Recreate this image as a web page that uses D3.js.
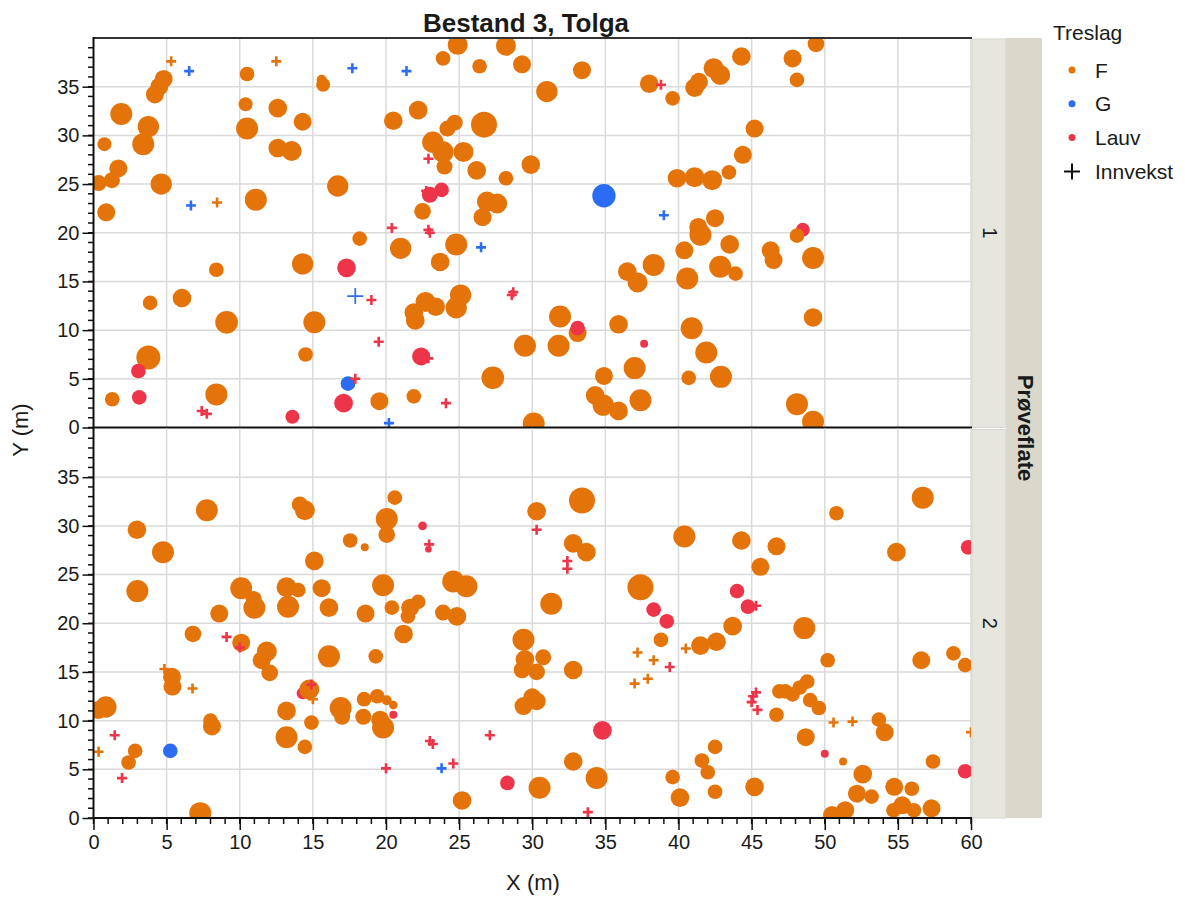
<!DOCTYPE html>
<html>
<head>
<meta charset="utf-8">
<script src="https://cdn.jsdelivr.net/npm/d3@7"></script>
<style>
  body { margin: 0; background: #fff; }
  text { font-family: "Liberation Sans", Arial, sans-serif; fill: #1a1a1a; }
</style>
</head>
<body>
<div id="canvas"></div>
<script>
// categories
const treslagKode = ["F", "G", "L"];
const treslagNavn = ["F", "G", "Lauv"];
const treslagFarge = ["#e4740a", "#2b6cf3", "#ee3448"];
const flater = ["1", "2"];
const xTicks = [0, 5, 10, 15, 20, 25, 30, 35, 40, 45, 50, 55, 60];
const yTicks = [0, 5, 10, 15, 20, 25, 30, 35];

// trees: [x, y, treslag, diameter (cm)]
const traer1 = [
  [48.5,20.3,"L",21],
  [4.8,35.8,"F",27],[4.5,35.0,"F",27],[4.2,34.2,"F",27],
  [1.9,32.2,"F",33],[3.75,30.9,"F",32],[3.4,29.1,"F",33],[0.75,29.1,"F",21],[1.7,26.6,"F",27],
  [1.26,25.4,"F",24],[0.35,25.1,"F",24],[4.63,25.0,"F",32],[0.87,22.1,"F",27],[11.1,23.4,"F",33],
  [10.5,36.3,"F",22],[10.4,33.2,"F",21],[10.5,30.7,"F",33],[12.6,32.8,"F",28],[12.6,28.7,"F",28],
  [13.55,28.4,"F",30],[14.3,31.4,"F",27],[15.6,35.7,"F",15],[15.7,35.2,"F",21],[16.7,24.8,"F",32],
  [20.5,31.5,"F",28],[23.9,37.9,"F",22],[24.9,39.3,"F",30],[26.4,37.1,"F",22],[28.2,39.2,"F",30],
  [29.3,37.3,"F",27],[31.0,34.5,"F",32],[33.4,36.7,"F",27],[38.0,35.3,"F",28],[39.6,33.8,"F",22],
  [41.1,34.9,"F",28],[41.4,35.5,"F",27],[42.4,36.9,"F",30],[42.85,36.2,"F",30],[44.3,38.1,"F",28],
  [22.2,32.6,"F",28],[24.7,31.3,"F",24],[24.2,30.7,"F",24],[26.7,31.1,"F",39],[23.2,29.3,"F",32],
  [23.9,28.3,"F",32],[25.3,28.3,"F",30],[24.0,26.8,"F",24],[26.2,26.4,"F",28],[28.2,25.6,"F",22],
  [29.9,27.0,"F",28],[22.5,22.2,"F",25],[26.9,23.2,"F",30],[27.6,23.0,"F",30],[26.6,21.6,"F",27],
  [39.9,25.6,"F",28],[41.1,25.7,"F",30],[42.3,25.4,"F",30],[43.45,26.2,"F",22],[44.4,28.0,"F",27],
  [45.2,30.7,"F",27],[42.5,21.5,"F",27],[41.35,20.6,"F",27],[49.4,39.4,"F",25],[47.8,37.9,"F",27],
  [48.1,35.7,"F",22],[48.1,19.7,"F",22],[18.2,19.4,"F",22],[21.0,18.4,"F",32],[14.3,16.8,"F",32],
  [8.4,16.2,"F",22],[3.87,12.8,"F",22],[6.05,13.3,"F",28],[9.1,10.8,"F",34],[15.1,10.8,"F",33],
  [3.75,7.2,"F",36],[14.5,7.5,"F",22],[1.28,2.9,"F",22],[8.4,3.4,"F",33],[19.55,2.7,"F",27],
  [24.8,18.8,"F",33],[23.7,17.0,"F",28],[22.7,12.9,"F",30],[23.4,12.4,"F",28],[21.9,11.8,"F",28],
  [22.0,11.0,"F",28],[25.1,13.6,"F",32],[24.8,12.3,"F",32],[31.9,11.4,"F",33],[33.1,9.7,"F",27],
  [31.8,8.4,"F",33],[29.5,8.4,"F",33],[35.9,10.6,"F",28],[27.3,5.1,"F",34],[21.9,3.2,"F",22],
  [30.1,0.4,"F",33],[34.9,5.3,"F",27],[37.0,6.1,"F",33],[34.3,3.3,"F",28],[34.85,2.3,"F",32],
  [35.9,1.7,"F",28],[37.4,2.8,"F",33],[40.9,10.2,"F",33],[41.9,7.7,"F",33],[40.7,5.1,"F",22],
  [42.9,5.2,"F",33],[40.4,18.2,"F",27],[41.5,19.8,"F",33],[43.5,18.8,"F",28],[40.6,15.3,"F",33],
  [42.85,16.5,"F",33],[43.9,15.8,"F",22],[36.5,16.0,"F",28],[37.2,14.9,"F",30],[38.3,16.7,"F",33],
  [46.3,18.2,"F",27],[46.5,17.2,"F",27],[49.2,17.4,"F",33],[49.2,11.3,"F",28],[48.1,2.4,"F",33],
  [49.2,0.6,"F",33],
  [34.9,23.8,"G",35],[17.4,4.5,"G",22],
  [23.8,24.4,"L",22],[23.0,23.9,"L",24],[17.3,16.4,"L",28],[3.07,5.8,"L",22],[3.13,3.1,"L",22],
  [13.6,1.1,"L",21],[17.1,2.5,"L",28],[22.4,7.3,"L",27],[33.1,10.2,"L",22],[37.65,8.6,"L",12]
];

// innvekst: [x, y, treslag, hoyde (m)]
const innvekst1 = [
  [5.31,37.6,"F",1],[6.54,36.6,"G",1],[6.66,22.8,"G",1],[8.45,23.1,"F",1],[12.5,37.6,"F",1],
  [17.7,36.9,"G",1],[21.4,36.6,"G",1],[38.8,35.2,"L",1],[22.9,27.6,"L",1],[22.75,24.3,"L",1],
  [39.0,21.8,"G",1],[20.4,20.5,"L",1],[22.9,20.3,"L",1],[23.0,20.0,"L",1],[26.5,18.5,"G",1],
  [17.9,13.5,"G",2],[19.0,13.1,"L",1],[28.7,13.9,"L",1],[28.6,13.6,"L",1],[19.5,8.8,"L",1],
  [22.9,7.1,"L",1],[17.9,5.0,"L",1],[7.4,1.7,"L",1],[7.75,1.4,"L",1],[24.1,2.5,"L",1],
  [20.2,0.45,"G",1]
];

const traer2 = [
  [14.3,12.8,"L",18],
  [2.97,29.6,"F",28],[4.75,27.3,"F",33],[3.0,23.3,"F",33],[7.75,31.6,"F",33],[14.1,32.2,"F",24],
  [14.45,31.6,"F",30],[20.6,32.9,"F",22],[20.05,30.7,"F",33],[20.05,29.1,"F",25],[17.55,28.5,"F",22],
  [18.55,27.8,"F",12],[15.1,26.4,"F",28],[10.1,23.6,"F",33],[10.95,22.5,"F",24],[11.0,21.6,"F",33],
  [13.2,23.7,"F",30],[14.0,23.4,"F",22],[13.3,21.7,"F",33],[15.6,23.6,"F",27],[16.1,21.6,"F",28],
  [19.8,23.9,"F",33],[20.4,21.6,"F",22],[18.6,21.0,"F",27],[8.6,21.0,"F",27],[6.8,18.9,"F",25],
  [10.1,18.0,"F",27],[11.85,17.1,"F",30],[11.5,16.2,"F",27],[12.05,14.9,"F",25],[21.2,18.9,"F",28],
  [16.1,16.6,"F",33],[19.3,16.6,"F",22],[5.37,14.5,"F",27],[5.4,13.5,"F",27],[0.85,11.4,"F",32],
  [0.33,11.1,"F",27],[2.85,6.9,"F",22],[2.4,5.7,"F",22],[8.0,10.0,"F",22],[8.1,9.4,"F",27],
  [7.3,0.5,"F",33],[13.2,11.0,"F",28],[13.2,8.3,"F",33],[14.45,7.3,"F",22],[14.75,13.2,"F",30],
  [14.9,9.8,"F",22],[16.9,11.3,"F",33],[17.0,10.4,"F",24],[18.5,12.2,"F",22],[19.4,12.5,"F",22],
  [18.45,10.4,"F",24],[20.05,12.1,"F",15],[20.5,11.6,"F",13],[19.8,9.3,"F",33],[19.6,10.1,"F",27],
  [29.4,18.3,"F",33],[29.5,16.3,"F",28],[30.75,16.5,"F",24],[29.3,15.2,"F",25],[30.3,15.0,"F",25],
  [32.8,15.2,"F",28],[30.0,12.4,"F",27],[30.3,12.0,"F",27],[29.4,11.5,"F",27],[25.2,1.8,"F",28],
  [30.5,3.1,"F",33],[32.8,5.8,"F",28],[34.4,4.1,"F",33],[38.8,18.3,"F",22],[41.5,17.7,"F",28],
  [42.6,18.1,"F",28],[46.7,10.6,"F",22],[46.9,13.0,"F",22],[39.6,4.2,"F",22],[40.1,2.1,"F",28],
  [41.6,5.9,"F",22],[42.0,4.7,"F",22],[42.5,7.3,"F",22],[42.5,2.7,"F",22],[45.2,3.2,"F",28],
  [21.65,21.6,"F",27],[22.2,22.2,"F",22],[21.5,20.7,"F",22],[24.6,24.3,"F",33],[25.5,23.8,"F",33],
  [23.9,21.1,"F",24],[24.85,20.7,"F",28],[30.3,31.5,"F",28],[33.4,32.6,"F",39],[32.8,28.2,"F",28],
  [33.7,27.3,"F",28],[31.3,22.0,"F",33],[37.4,23.7,"F",39],[40.4,28.9,"F",33],[44.3,28.5,"F",28],
  [46.7,27.9,"F",27],[45.6,25.8,"F",27],[43.7,19.7,"F",28],[56.7,32.9,"F",33],[50.8,31.3,"F",22],
  [54.9,27.3,"F",28],[48.6,19.5,"F",33],[50.2,16.2,"F",22],[56.6,16.2,"F",27],[58.8,16.9,"F",22],
  [59.6,15.7,"F",22],[48.8,14.0,"F",22],[48.3,13.4,"F",22],[47.3,13.0,"F",22],[47.8,12.7,"F",22],
  [49.0,12.1,"F",22],[49.6,11.3,"F",22],[48.7,8.3,"F",27],[53.7,10.1,"F",22],[54.1,8.8,"F",27],
  [51.25,5.8,"F",12],[57.4,5.8,"F",22],[52.6,4.5,"F",28],[52.2,2.5,"F",27],[53.2,2.2,"F",22],
  [54.75,3.2,"F",27],[55.95,3.0,"F",22],[51.4,0.8,"F",27],[50.5,0.3,"F",27],[54.7,0.8,"F",22],
  [55.3,1.3,"F",27],[56.1,0.8,"F",22],[57.3,1.0,"F",27],
  [5.25,6.9,"G",22],
  [20.5,10.6,"L",12],[28.3,3.6,"L",22],[34.8,9.0,"L",28],[22.5,30.0,"L",13],[38.3,21.4,"L",22],
  [39.2,20.2,"L",22],[44.0,23.3,"L",22],[44.75,21.7,"L",22],[59.8,27.8,"L",22],[50.0,6.6,"L",12],
  [59.6,4.8,"L",22],[22.9,27.6,"L",10]
];

const innvekst2 = [
  [4.85,15.3,"F",1],[6.77,13.3,"F",1],[1.45,8.5,"L",1],[0.35,6.8,"F",1],[1.95,4.1,"L",1],
  [9.1,18.6,"L",1],[10.0,17.5,"L",1],[14.9,13.7,"L",1],[15.0,12.2,"F",1],[20.0,5.1,"L",1],
  [22.95,28.1,"L",1],[30.3,29.6,"L",1],[32.4,26.4,"L",1],[32.4,25.6,"L",1],[23.0,7.9,"L",1],
  [23.2,7.6,"L",1],[27.1,8.5,"L",1],[24.6,5.6,"L",1],[23.8,5.1,"G",1],[33.8,0.6,"L",1],
  [37.2,17.0,"F",1],[38.3,16.2,"F",1],[37.0,13.8,"F",1],[37.9,14.3,"F",1],[39.4,15.5,"L",1],
  [40.5,17.4,"F",1],[45.3,12.9,"L",1],[45.1,12.5,"L",1],[45.0,11.9,"L",1],[45.4,11.1,"L",1],
  [45.3,21.8,"L",1],[50.6,9.8,"F",1],[51.9,9.9,"F",1],[60.0,8.8,"F",1]
];

const w = 1185, h = 897;
const left = 93.5, right = 971;

const x = d3.scaleLinear().domain([0, 60]).range([left, right]);
const r = d3.scaleLinear().domain([0, 36]).range([0, 12]);
const arm = d3.scaleLinear().domain([1, 2]).range([5, 8]);
const colour = d3.scaleOrdinal().domain(treslagKode).range(treslagFarge);

const panels = [
  { key: flater[0], trees: traer1, inn: innvekst1, top: 38, bottom: 427.5 },
  { key: flater[1], trees: traer2, inn: innvekst2, top: 428.5, bottom: 818 }
];

const svg = d3.select("#canvas").append("svg")
  .attr("width", w).attr("height", h);

// title
svg.append("text")
  .attr("x", 526).attr("y", 32)
  .attr("text-anchor", "middle")
  .style("font-size", "26px").style("font-weight", "bold")
  .text("Bestand 3, Tolga");

// outer strip
svg.append("rect")
  .attr("x", 1006).attr("y", 38).attr("width", 36).attr("height", 780)
  .attr("fill", "#d9d8ca");
svg.append("text")
  .attr("transform", "translate(1025,428) rotate(90)")
  .attr("text-anchor", "middle").attr("dominant-baseline", "central")
  .style("font-size", "22px").style("font-weight", "bold")
  .text("Prøveflate");

panels.forEach(function(p, i) {
  const y = d3.scaleLinear().domain([0, 40]).range([p.bottom, p.bottom - 40 * 9.7375]);
  const g = svg.append("g").classed("panel", true);

  // inner strip
  g.append("rect")
    .attr("x", 972).attr("y", p.top + 1).attr("width", 34).attr("height", p.bottom - p.top - 1)
    .attr("fill", "#e6e6de").attr("stroke", "#d6d6cf");
  g.append("text")
    .attr("transform", "translate(990," + ((p.top + p.bottom) / 2) + ") rotate(90)")
    .attr("text-anchor", "middle").attr("dominant-baseline", "central")
    .style("font-size", "20px")
    .text(p.key);

  // grid
  g.append("g").selectAll("line").data(xTicks.slice(1)).enter().append("line")
    .attr("x1", d => x(d)).attr("x2", d => x(d))
    .attr("y1", p.top).attr("y2", p.bottom)
    .attr("stroke", "#dadada").attr("stroke-width", 1.5);
  g.append("g").selectAll("line").data(yTicks.slice(1)).enter().append("line")
    .attr("x1", left).attr("x2", right)
    .attr("y1", d => y(d)).attr("y2", d => y(d))
    .attr("stroke", "#dadada").attr("stroke-width", 1.5);

  // points, clipped to the panel
  const clipId = "clip" + i;
  svg.append("clipPath").attr("id", clipId).append("rect")
    .attr("x", left).attr("y", p.top).attr("width", right - left).attr("height", p.bottom - p.top);
  const pts = g.append("g").attr("clip-path", "url(#" + clipId + ")");

  pts.selectAll("circle").data(p.trees).enter().append("circle")
    .attr("cx", d => x(d[0])).attr("cy", d => y(d[1]))
    .attr("r", d => r(d[3]))
    .attr("fill", d => colour(d[2]));

  pts.selectAll("path").data(p.inn).enter().append("path")
    .attr("transform", d => "translate(" + x(d[0]) + "," + y(d[1]) + ")")
    .attr("d", d => { const a = arm(d[3]); return "M" + (-a) + ",0H" + a + "M0," + (-a) + "V" + a; })
    .attr("stroke", d => colour(d[2]))
    .attr("stroke-width", d => d[3] > 1 ? 1.7 : 2.6)
    .attr("fill", "none");

  // y axis with minor ticks
  g.append("g").selectAll("line").data(d3.range(0, 40)).enter().append("line")
    .attr("x1", left - 5.5).attr("x2", left)
    .attr("y1", d => y(d)).attr("y2", d => y(d))
    .attr("stroke", "#111").attr("stroke-width", 1.5);
  const yAxis = g.append("g")
    .attr("transform", "translate(" + left + ",0)")
    .call(d3.axisLeft(y).tickValues(yTicks).tickSize(11).tickSizeOuter(0).tickPadding(3));
  yAxis.select(".domain").remove();
  yAxis.selectAll(".tick line").attr("stroke", "#111").attr("stroke-width", 1.5);
  yAxis.selectAll(".tick text")
    .style("font-size", "20px").style("font-family", "'Liberation Sans', Arial, sans-serif")
    .attr("fill", "#1a1a1a");

  // bottom border of the panel
  g.append("line")
    .attr("x1", left).attr("x2", right + 1)
    .attr("y1", p.bottom).attr("y2", p.bottom)
    .attr("stroke", "#111").attr("stroke-width", 2);
});

// top border
svg.append("line")
  .attr("x1", left).attr("x2", right + 1).attr("y1", 38).attr("y2", 38)
  .attr("stroke", "#333").attr("stroke-width", 2);
// left axis line
svg.append("line")
  .attr("x1", left).attr("x2", left).attr("y1", 37).attr("y2", 819)
  .attr("stroke", "#111").attr("stroke-width", 2);

// x axis
const xg = svg.append("g");
xg.selectAll("line").data(d3.range(0, 61)).enter().append("line")
  .attr("x1", d => x(d)).attr("x2", d => x(d))
  .attr("y1", 818).attr("y2", 824)
  .attr("stroke", "#111").attr("stroke-width", 1.5);
const xAxis = xg.append("g")
  .attr("transform", "translate(0,818)")
  .call(d3.axisBottom(x).tickValues(xTicks).tickSize(12).tickSizeOuter(0).tickPadding(5));
xAxis.select(".domain").remove();
xAxis.selectAll(".tick line").attr("stroke", "#111").attr("stroke-width", 1.5);
xAxis.selectAll(".tick text")
  .style("font-size", "20px").style("font-family", "'Liberation Sans', Arial, sans-serif")
  .attr("fill", "#1a1a1a");

// axis titles
svg.append("text")
  .attr("x", 533).attr("y", 890)
  .attr("text-anchor", "middle")
  .style("font-size", "22px")
  .text("X (m)");
svg.append("text")
  .attr("transform", "translate(28,430) rotate(-90)")
  .attr("text-anchor", "middle")
  .style("font-size", "22px")
  .text("Y (m)");

// legend
const legend = svg.append("g").attr("transform", "translate(1053,0)");
legend.append("text")
  .attr("x", 0).attr("y", 40)
  .style("font-size", "21px")
  .text("Treslag");
const items = legend.selectAll(".item").data(treslagNavn).enter().append("g")
  .attr("class", "item")
  .attr("transform", (d, i) => "translate(0," + (70 + i * 33.8) + ")");
items.append("circle")
  .attr("cx", 19).attr("cy", 0).attr("r", 3.5)
  .attr("fill", (d, i) => treslagFarge[i]);
items.append("text")
  .attr("x", 42).attr("y", 0).attr("dominant-baseline", "central")
  .style("font-size", "21px")
  .text(d => d);
const innItem = legend.append("g").attr("transform", "translate(0," + (70 + 3 * 33.8) + ")");
innItem.append("path")
  .attr("d", "M11,0H27M19,-8V8")
  .attr("stroke", "#111").attr("stroke-width", 2);
innItem.append("text")
  .attr("x", 42).attr("y", 0).attr("dominant-baseline", "central")
  .style("font-size", "21px")
  .text("Innvekst");
</script>
</body>
</html>
